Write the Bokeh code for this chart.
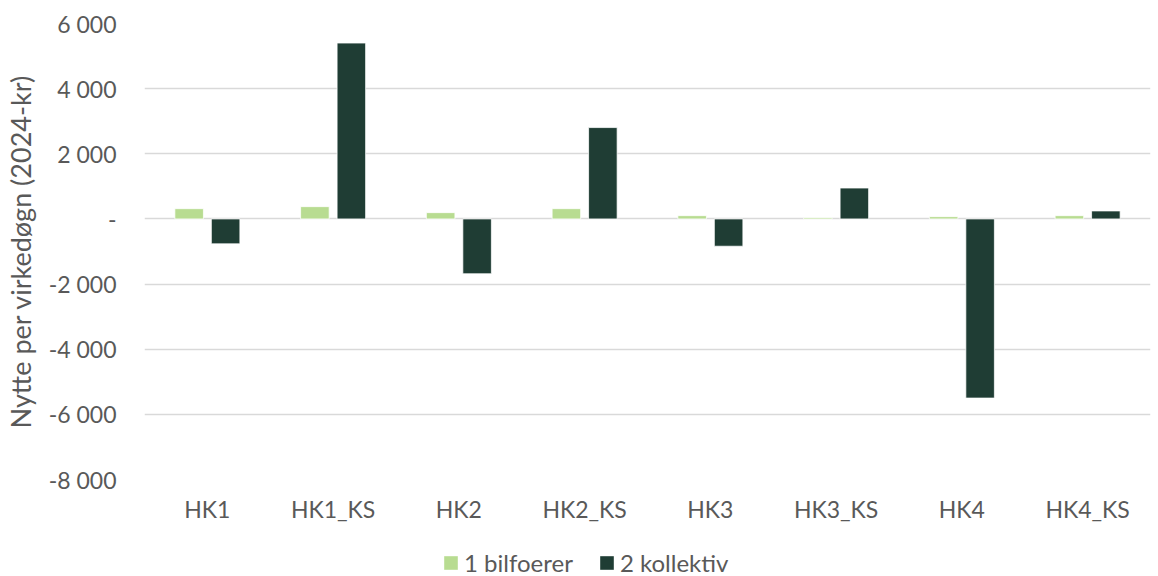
from bokeh.plotting import figure
from bokeh.layouts import column
from bokeh.models import ColumnDataSource, FixedTicker, Range1d, FactorRange, Legend, LegendItem
from bokeh.transform import dodge
from bokeh.embed import file_html
from bokeh.resources import INLINE

categories = ["HK1", "HK1_KS", "HK2", "HK2_KS", "HK3", "HK3_KS", "HK4", "HK4_KS"]
bilfoerer = [315, 377, 193, 315, 100, 40, 70, 100]
kollektiv = [-765, 5400, -1684, 2805, -838, 949, -5500, 245]
y_ticks = [-8000, -6000, -4000, -2000, 0, 2000, 4000, 6000]
series_names = ["1 bilfoerer", "2 kollektiv"]
colors = ["#b8dc91", "#1f3d34"]

FONT = "Lato"
TXT = "#595959"

src = ColumnDataSource(dict(cat=categories, b=bilfoerer, k=kollektiv))

p = figure(width=1158, height=545, x_range=FactorRange(*categories, range_padding=0),
           y_range=Range1d(-8000, 6000), output_backend="svg", toolbar_location=None,
           min_border_left=144, min_border_right=8, min_border_top=23, min_border_bottom=66)
p.outline_line_color = None

p.vbar(x=dodge("cat", -0.145, range=p.x_range), top="b", bottom=0, width=0.227, source=src,
       fill_color=colors[0], line_color="#ffffff", line_width=0.75)
p.vbar(x=dodge("cat", 0.145, range=p.x_range), top="k", bottom=0, width=0.227, source=src,
       fill_color=colors[1], line_color="#ffffff", line_width=0.75)

p.yaxis.ticker = FixedTicker(ticks=y_ticks)
p.yaxis.major_label_overrides = {v: ("-" if v == 0 else f"{v:,}".replace(",", " ")) for v in y_ticks}
p.ygrid.ticker = FixedTicker(ticks=y_ticks)
p.ygrid.grid_line_color = "#d9d9d9"
p.ygrid.grid_line_width = 1.5
p.xgrid.grid_line_color = None

for ax in (p.xaxis, p.yaxis):
    ax.axis_line_color = None
    ax.major_tick_line_color = None
    ax.minor_tick_line_color = None
    ax.major_label_text_font = FONT
    ax.major_label_text_font_size = "23px"
    ax.major_label_text_color = TXT

p.yaxis.major_label_standoff = 22
p.xaxis.major_label_standoff = 9
p.yaxis.axis_label = "Nytte per virkedøgn (2024-kr)"
p.yaxis.axis_label_text_font = FONT
p.yaxis.axis_label_text_font_size = "27px"
p.yaxis.axis_label_text_font_style = "normal"
p.yaxis.axis_label_text_color = TXT
p.yaxis.axis_label_standoff = 9

# legend strip below the chart (same series, drawn outside its visible range)
lg = figure(width=1158, height=31, x_range=FactorRange(*categories, range_padding=0),
            y_range=Range1d(20000, 20001), output_backend="svg", toolbar_location=None,
            min_border_left=0, min_border_right=0, min_border_top=0, min_border_bottom=0)
lg.outline_line_color = None
lg.axis.visible = False
lg.grid.visible = False
g1 = lg.vbar(x=dodge("cat", -0.145, range=lg.x_range), top="b", bottom=0, width=0.227, source=src,
             fill_color=colors[0], line_color=None)
g2 = lg.vbar(x=dodge("cat", 0.145, range=lg.x_range), top="k", bottom=0, width=0.227, source=src,
             fill_color=colors[1], line_color=None)

legend = Legend(items=[LegendItem(label=series_names[0], renderers=[g1]),
                       LegendItem(label=series_names[1], renderers=[g2])],
                orientation="horizontal", location=(298, -1),
                glyph_width=17, glyph_height=17, label_standoff=5, spacing=25,
                padding=0, margin=0, border_line_color=None, background_fill_alpha=0,
                label_text_line_height=1.0,
                label_text_font=FONT, label_text_font_size="24px", label_text_color=TXT)
lg.add_layout(legend, "center")

layout = column(p, lg, spacing=0)
open("out.html", "w").write(file_html(layout, INLINE))
